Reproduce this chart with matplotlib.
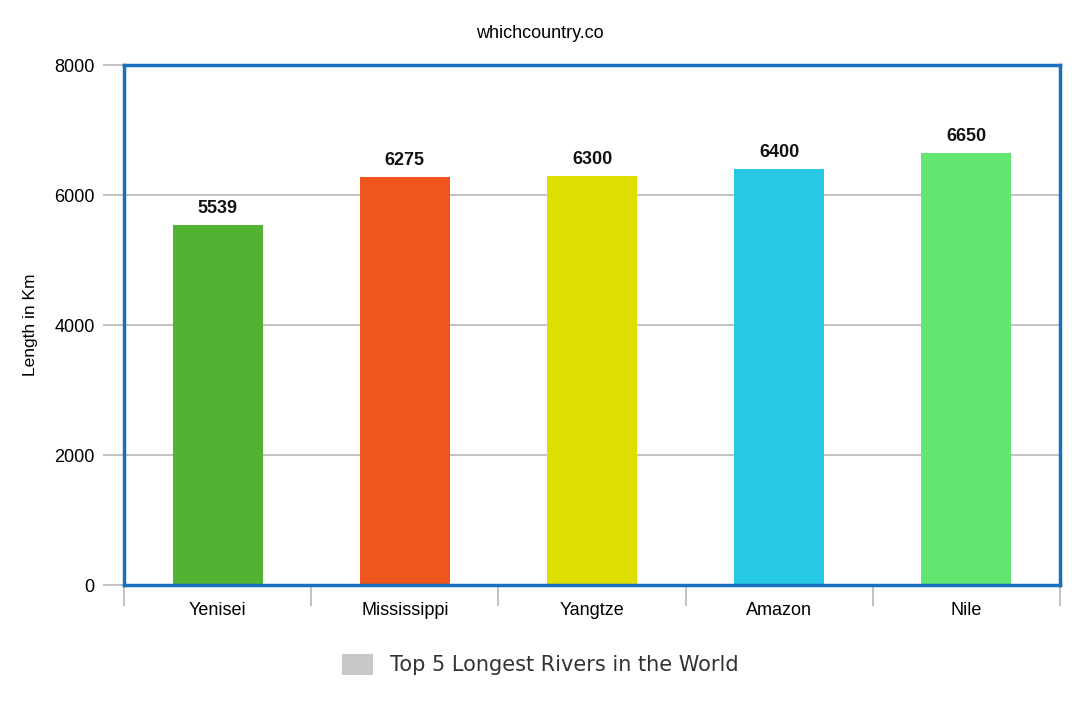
import matplotlib.pyplot as plt
import numpy as np
from matplotlib.patches import Patch

rivers = ['Yenisei', 'Mississippi', 'Yangtze', 'Amazon', 'Nile']
lengths = [5539, 6275, 6300, 6400, 6650]
labels = ['5539', '6275', '6300', '6400', '6650']
barcolors = ['#52b232', '#ee561e', '#dde000', '#26c8e3', '#62e571']

plt.rcParams['font.family'] = ['Liberation Sans', 'DejaVu Sans']

fig = plt.figure(figsize=(10.8, 7.2), dpi=100)
ax = fig.add_axes([0.1148, 0.1875, 0.8667, 0.7222])

x = np.arange(len(rivers))
ax.bar(x, lengths, width=0.48, color=barcolors, zorder=3)
for i in range(len(rivers)):
    ax.text(x[i], lengths[i] + 120, labels[i], ha='center', va='bottom',
            fontsize=13, fontweight='bold', color='#111111')

ax.set_xlim(-0.5, len(rivers) - 0.5)
ax.set_ylim(0, 8000)
ax.set_yticks(np.arange(0, 8001, 2000))
ax.grid(True, axis='y', color='#b8b8b8', linewidth=1.2, zorder=0)

# category labels centred, tick marks on the boundaries
ax.set_xticks(x)
ax.set_xticklabels(rivers, fontsize=13)
ax.set_xticks(np.arange(-0.5, len(rivers), 1), minor=True)
ax.tick_params(axis='x', which='major', length=0, pad=12)
ax.tick_params(axis='x', which='minor', length=15, color='#b8b8b8', width=1.2)
ax.tick_params(axis='y', length=15, color='#b8b8b8', width=1.2, labelsize=13, pad=6)

for s in ax.spines.values():
    s.set_color('#1a6fbf')
    s.set_linewidth(2.5)
    s.set_zorder(4)

ax.set_ylabel('Length in Km', fontsize=12.5, labelpad=12)
fig.text(0.5, 0.953, 'whichcountry.co', ha='center', va='center', fontsize=13)

handle = Patch(facecolor='#c8c8c8', edgecolor='none')
fig.legend([handle], ['Top 5 Longest Rivers in the World'], loc='center',
           bbox_to_anchor=(0.5, 0.077), frameon=False, handlelength=1.5,
           handleheight=1.2, prop={'family': 'DejaVu Sans', 'size': 15},
           labelcolor='#333333')

fig.savefig('out.png', dpi=100)
